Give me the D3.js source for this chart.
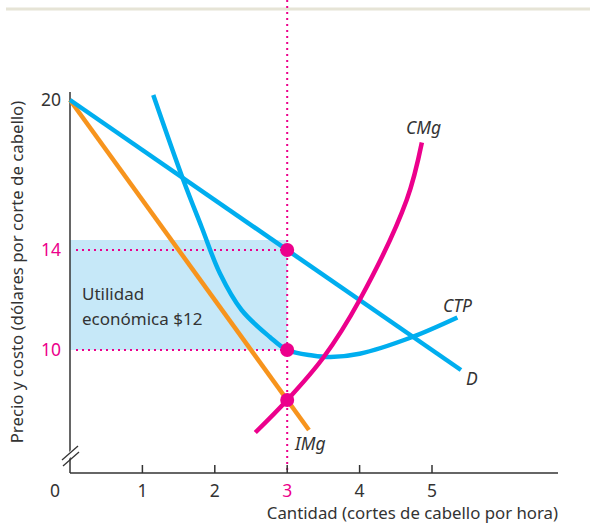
<!DOCTYPE html>
<html><head><meta charset="utf-8">
<script src="https://cdn.jsdelivr.net/npm/d3@7"></script>
<style>body{margin:0;background:#fff}svg{display:block}text{font-family:"Noto Sans",sans-serif}</style>
</head><body>
<svg id="c" width="597" height="525"></svg>
<script>
// Data
const xTicks = [1, 2, 3, 4, 5];
const yTickLabels = [20, 14, 10];
const demandQ = [0, 5.4];
const demandP = [20, 9.2];
const mrQ = [0, 3.3];
const mrP = [20, 6.8];
const atcQ = [1.15, 1.565, 1.82, 2.07, 2.37, 2.76, 3, 3.35, 3.6, 4, 4.71, 5.35];
const atcP = [20.2, 16.8, 14.9, 13.07, 11.6, 10.52, 10, 9.78, 9.72, 9.85, 10.5, 11.3];
const mcQ = [2.56, 3, 3.5, 4, 4.65, 4.86];
const mcP = [6.7, 8, 9.7, 12, 16, 18.3];
const outputQ = 3, priceP = 14, atcAtQ = 10, mrAtQ = 8, profitTop = 14.4;

const svg = d3.select("#c");
const x = d3.scaleLinear().domain([0, 1]).range([70, 142.4]);
const y = d3.scaleLinear().domain([10, 20]).range([350, 100]);
const yBase = 473, xEnd = 558;

const blue = "#00aeef", orange = "#f7941d", mag = "#ec008c", dark = "#333";

// top rule
svg.append("line").attr("x1",6).attr("x2",590).attr("y1",9).attr("y2",9).attr("stroke","#e6e4d6").attr("stroke-width",3);

// profit rect
svg.append("rect").attr("x",x(0)).attr("y",y(profitTop)).attr("width",x(outputQ)-x(0)).attr("height",y(atcAtQ)-y(profitTop)).attr("fill","#c6e8f8");

// dotted lines
const dot = {stroke: mag, "stroke-width": 2, "stroke-dasharray": "2,4"};
function dl(x1,y1,x2,y2){const l=svg.append("line").attr("x1",x1).attr("y1",y1).attr("x2",x2).attr("y2",y2);for(const k in dot)l.attr(k,dot[k]);}
dl(x(outputQ),0,x(outputQ),yBase);
dl(x(0)+6,y(priceP),x(outputQ),y(priceP));
dl(x(0)+6,y(atcAtQ),x(outputQ),y(atcAtQ));

// axes
svg.append("line").attr("x1",x(0)).attr("x2",x(0)).attr("y1",92).attr("y2",yBase).attr("stroke",dark).attr("stroke-width",1.5);
svg.append("line").attr("x1",x(0)).attr("x2",xEnd).attr("y1",yBase).attr("y2",yBase).attr("stroke",dark).attr("stroke-width",1.5);
// break
svg.append("line").attr("x1",60).attr("y1",464).attr("x2",79).attr("y2",446).attr("stroke","#fff").attr("stroke-width",5);
svg.append("line").attr("x1",62).attr("y1",460).attr("x2",78).attr("y2",446).attr("stroke",dark).attr("stroke-width",1.3);
svg.append("line").attr("x1",63).attr("y1",466).attr("x2",79).attr("y2",452).attr("stroke",dark).attr("stroke-width",1.3);

// x ticks
svg.selectAll(".xt").data(xTicks).join("line").attr("x1",d=>x(d)).attr("x2",d=>x(d)).attr("y1",yBase).attr("y2",yBase-8).attr("stroke",dark).attr("stroke-width",1.5);
svg.selectAll(".xl").data([0].concat(xTicks)).join("text").attr("x",d=>d===0?55:x(d)).attr("y",497).attr("text-anchor","middle").attr("font-size",17.5).attr("fill",d=>d===outputQ?mag:dark).text(d=>d);
svg.selectAll(".yl").data(yTickLabels).join("text").attr("x",61).attr("y",d=>y(d)+6).attr("text-anchor","end").attr("font-size",17.5).attr("fill",d=>d===20?dark:mag).text(d=>d);

// axis titles
svg.append("text").attr("transform","translate(23,272) rotate(-90)").attr("text-anchor","middle").attr("font-size",16.8).attr("fill",dark).text("Precio y costo (dólares por corte de cabello)");
svg.append("text").attr("x",xEnd).attr("y",519).attr("text-anchor","end").attr("font-size",16.8).attr("fill",dark).text("Cantidad (cortes de cabello por hora)");

// profit text
svg.append("text").attr("x",82).attr("y",300).attr("font-size",17).attr("fill",dark).text("Utilidad");
svg.append("text").attr("x",82).attr("y",325).attr("font-size",17).attr("fill",dark).text("económica $12");

// curves
const line = d3.line().x(d=>x(d[0])).y(d=>y(d[1]));
const cr = d3.line().x(d=>x(d[0])).y(d=>y(d[1])).curve(d3.curveCatmullRom.alpha(0.5));
svg.append("path").attr("d",line(d3.zip(mrQ,mrP))).attr("stroke",orange).attr("stroke-width",4.5).attr("fill","none");
svg.append("path").attr("d",line(d3.zip(demandQ,demandP))).attr("stroke",blue).attr("stroke-width",4.5).attr("fill","none");
svg.append("path").attr("d",cr(d3.zip(atcQ,atcP))).attr("stroke",blue).attr("stroke-width",4.5).attr("fill","none");
svg.append("path").attr("d",cr(d3.zip(mcQ,mcP))).attr("stroke",mag).attr("stroke-width",4.5).attr("fill","none");

// points
svg.selectAll(".pt").data([priceP, atcAtQ, mrAtQ]).join("circle").attr("cx",x(outputQ)).attr("cy",d=>y(d)).attr("r",7).attr("fill",mag);

// curve labels
const lab = (t,xx,yy)=>svg.append("text").attr("x",xx).attr("y",yy).attr("font-size",17.5).attr("font-style","italic").attr("fill",dark).text(t);
lab("CMg",406,134);
lab("CTP",443,312);
lab("D",466,385);
lab("IMg",295,450);
</script>
</body></html>
